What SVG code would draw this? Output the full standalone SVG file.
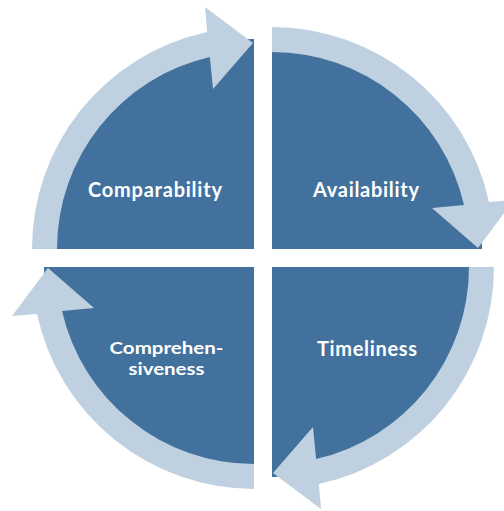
<svg xmlns="http://www.w3.org/2000/svg" width="504" height="511" viewBox="0 0 504 511">
  <style>
    .q { fill: #41719c; }
    .arr { fill: #bfd1e0; }
    .lbl { fill: #ffffff; font-family: Lato, "Open Sans", "Liberation Sans", sans-serif; font-weight: bold; font-size: 20px; text-anchor: middle; }
    .sm { font-size: 17px; }
  </style>
  <defs>
    <path id="quarter" d="M 0,0 L -210,0 A 210 210 0 0 1 0,-210 Z"/>
    <path id="arrow" d="M -222,0 A 222 222 0 0 1 -46.9,-217 L -49,-242 L -1,-206 L -41,-160 L -44.1,-192 A 197 197 0 0 0 -197,0 Z"/>
  </defs>
  <rect width="504" height="511" fill="#ffffff"/>
  <g id="node-comparability">
    <use href="#quarter" class="q" transform="translate(254,249)"/>
    <text class="lbl" x="155" y="197" textLength="134">Comparability</text>
  </g>
  <g id="node-availability">
    <use href="#quarter" class="q" transform="translate(272,249) rotate(90)"/>
    <text class="lbl" x="366" y="197" textLength="106">Availability</text>
  </g>
  <g id="node-timeliness">
    <use href="#quarter" class="q" transform="translate(272,267) rotate(180)"/>
    <text class="lbl" x="367" y="356" textLength="100">Timeliness</text>
  </g>
  <g id="node-comprehensiveness">
    <use href="#quarter" class="q" transform="translate(254,267) rotate(270)"/>
    <text class="lbl sm" x="166.5" y="354" textLength="114" lengthAdjust="spacingAndGlyphs">Comprehen-</text>
    <text class="lbl sm" x="166.5" y="374.5" textLength="76" lengthAdjust="spacingAndGlyphs">siveness</text>
  </g>
  <g id="connectors">
    <use href="#arrow" class="arr" transform="translate(254,249)"/>
    <use href="#arrow" class="arr" transform="translate(272,249) rotate(90)"/>
    <use href="#arrow" class="arr" transform="translate(272,267) rotate(180)"/>
    <use href="#arrow" class="arr" transform="translate(254,267) rotate(270)"/>
  </g>
</svg>
